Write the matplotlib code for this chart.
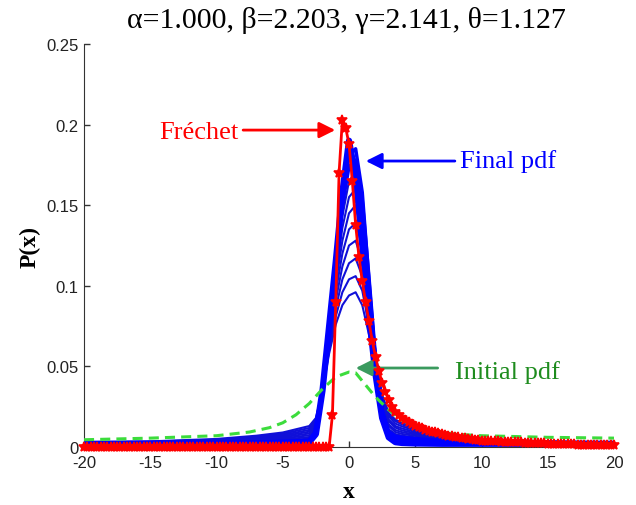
import numpy as np
import matplotlib
matplotlib.use('Agg')
import matplotlib.pyplot as plt

# Frechet fit (red, step 0.25 from -20 to 20)
red_x = np.arange(-20, 20.001, 0.25)
red_y = [0.0] * 74 + [
    0.0, 0.02, 0.09, 0.17, 0.203, 0.198, 0.188, 0.165, 0.138, 0.118,
    0.103, 0.090, 0.078, 0.066, 0.056, 0.047, 0.040, 0.034, 0.029, 0.025,
    0.022, 0.020, 0.018, 0.0167, 0.0155, 0.0143, 0.0132, 0.0123, 0.0115, 0.0108,
    0.0101, 0.0095, 0.0090, 0.0085, 0.0080, 0.0075, 0.0071, 0.0067, 0.0063, 0.0060,
    0.0057, 0.0054, 0.0051, 0.0048, 0.0045, 0.0042, 0.0040,
    0.0039, 0.0038, 0.0037, 0.0036, 0.0035, 0.0034, 0.0033, 0.0032,
    0.0031, 0.0030, 0.0029, 0.0028, 0.0027, 0.0026, 0.0025, 0.0024,
    0.0023, 0.0022, 0.0022, 0.0021, 0.0020, 0.0020, 0.0019, 0.0019,
    0.0018, 0.0017, 0.0017, 0.0016, 0.0015, 0.0015, 0.0014, 0.0014,
    0.0013, 0.0013, 0.0012, 0.0012, 0.0011, 0.0011, 0.0010, 0.0010]

# initial pdf (green dashed)
init_x = [-20, -15, -10, -7.5, -6, -5, -4, -3, -2, -1, 0, 0.5, 1, 1.5, 2, 3, 4, 5, 6, 8, 10, 15, 20]
init_y = [0.0045, 0.0055, 0.007, 0.0093, 0.012, 0.015, 0.02, 0.027, 0.036, 0.0435, 0.0465, 0.046,
          0.041, 0.036, 0.031, 0.023, 0.0165, 0.013, 0.0105, 0.008, 0.007, 0.006, 0.0055]

# evolving pdfs (blue)
blue_x = [-20, -15, -10, -7, -5, -4, -3, -2.5, -2, -1.5, -1, -0.5, 0,
          0.5, 1, 1.5, 2, 2.5, 3, 3.5, 4, 5, 7, 10, 15, 20]
iter_pdfs = [
    [.003, .0035, .005, .007, .009, .011, .013, .018, .035, .058, .076, .088, .094,
     .096, .088, .070, .050, .032, .021, .017, .015, .012, .008, .005, .0035, .003],
    [.0028, .0033, .0045, .0063, .0082, .0100, .0118, .017, .035, .060, .081, .096, .104,
     .106, .097, .076, .052, .032, .020, .016, .014, .011, .0075, .0047, .0033, .0028],
    [.0026, .0031, .0042, .0058, .0075, .0090, .0106, .016, .035, .062, .086, .104, .114,
     .117, .106, .082, .054, .031, .019, .0145, .0128, .0102, .007, .0045, .0032, .0027],
    [.0025, .0029, .0039, .0053, .0068, .0081, .0095, .015, .035, .064, .091, .112, .125,
     .128, .115, .088, .056, .030, .017, .013, .0115, .0093, .0065, .0042, .003, .0026],
    [.0024, .0027, .0036, .0048, .0061, .0072, .0084, .014, .035, .066, .096, .120, .135,
     .139, .124, .093, .057, .029, .016, .012, .0103, .0085, .006, .004, .0029, .0025],
    [.0023, .0026, .0033, .0043, .0054, .0063, .0073, .013, .035, .068, .101, .128, .145,
     .150, .133, .098, .058, .028, .014, .0105, .0092, .0077, .0055, .0038, .0028, .0024],
    [.0022, .0025, .0030, .0038, .0047, .0054, .0062, .012, .035, .070, .105, .136, .155,
     .160, .141, .102, .059, .027, .013, .0093, .0081, .0069, .005, .0035, .0027, .0023],
    [.0021, .0024, .0028, .0034, .0041, .0046, .0052, .011, .035, .072, .109, .143, .165,
     .170, .148, .105, .058, .025, .011, .008, .007, .006, .0045, .0032, .0025, .0022],
    [.0021, .0023, .0026, .0030, .0035, .0038, .0042, .010, .035, .073, .112, .150, .174,
     .178, .153, .106, .056, .023, .0095, .0067, .006, .0052, .004, .003, .0024, .0021],
    [.002, .0022, .0024, .0027, .0029, .0031, .0034, .009, .035, .074, .114, .155, .181,
     .185, .158, .104, .053, .021, .008, .0055, .005, .0045, .0035, .0028, .0023, .0021],
]
final_pdf = [.002, .002, .002, .002, .002, .0022, .003, .008, .035, .075, .115, .158, .19,
             .168, .125, .082, .045, .018, .006, .003, .0025, .0022, .002, .002, .002, .002]

xticks = [-20, -15, -10, -5, 0, 5, 10, 15, 20]
yticks = [0, 0.05, 0.1, 0.15, 0.2, 0.25]
ytick_labels = ['0', '0.05', '0.1', '0.15', '0.2', '0.25']

fig = plt.figure(figsize=(6.36, 5.06), dpi=100)
ax = fig.add_axes([84 / 636, 58 / 506, 530 / 636, 403 / 506])

for k, pdf in enumerate(iter_pdfs):
    lw = 1.5 if k < 8 else 2.5
    ax.plot(blue_x, pdf, color='#1010d8' if k < 8 else '#0000ff', lw=lw, zorder=2)
ax.plot(blue_x, final_pdf, color='#0000ff', lw=4.5, zorder=3)

ax.plot(init_x, init_y, color='#3cdc3c', lw=2.2, ls=(0, (3.3, 2)), zorder=4)

ax.plot(red_x, red_y, color='#ff0000', lw=2, marker='*', ms=7, mew=1.2,
        zorder=5, clip_on=False)

# annotations
serif = 'Liberation Serif'
ax.annotate('', xy=(-0.83, 0.1966), xytext=(-8.2, 0.1966),
            arrowprops=dict(arrowstyle='-|>', lw=2, color='#ff0000', mutation_scale=24))
ax.text(-14.3, 0.1954, 'Fréchet', color='#ff0000', fontsize=19, family=serif, va='center')

ax.annotate('', xy=(1.06, 0.1774), xytext=(8.2, 0.1774),
            arrowprops=dict(arrowstyle='-|>', lw=2, color='#0000ff', mutation_scale=24))
ax.text(8.4, 0.178, 'Final pdf', color='#0000ff', fontsize=19, family=serif, va='center')

ax.annotate('', xy=(0.3, 0.049), xytext=(6.9, 0.049),
            arrowprops=dict(arrowstyle='-|>', lw=2, color='#3a9a5e', mutation_scale=24))
ax.text(8.0, 0.047, 'Initial pdf', color='#1e8c1e', fontsize=19, family=serif, va='center')

ax.set_xlim(-20, 20)
ax.set_ylim(0, 0.25)
ax.set_xticks(xticks)
ax.set_xticklabels([str(t) for t in xticks])
ax.set_yticks(yticks)
ax.set_yticklabels(ytick_labels)
ax.tick_params(direction='in', length=4, width=1, labelsize=12, colors='#333333',
               labelcolor='#222222')
ax.tick_params(axis='x', pad=6)
ax.tick_params(axis='y', pad=4)
for lab in ax.get_xticklabels() + ax.get_yticklabels():
    lab.set_family('Liberation Sans')
ax.spines['top'].set_visible(False)
ax.spines['right'].set_visible(False)
ax.spines['left'].set_color('#333333')
ax.spines['bottom'].set_color('#333333')

ax.set_xlabel('x', fontsize=17, fontweight='bold', family=serif, labelpad=8)
ax.set_ylabel('P(x)', fontsize=17, fontweight='bold', family=serif, labelpad=4)
fig.text(346 / 636, 1 - 20 / 506, 'α=1.000, β=2.203, γ=2.141, θ=1.127',
         ha='center', va='center', fontsize=21.5, family=serif)

fig.savefig('out.png', dpi=100)
